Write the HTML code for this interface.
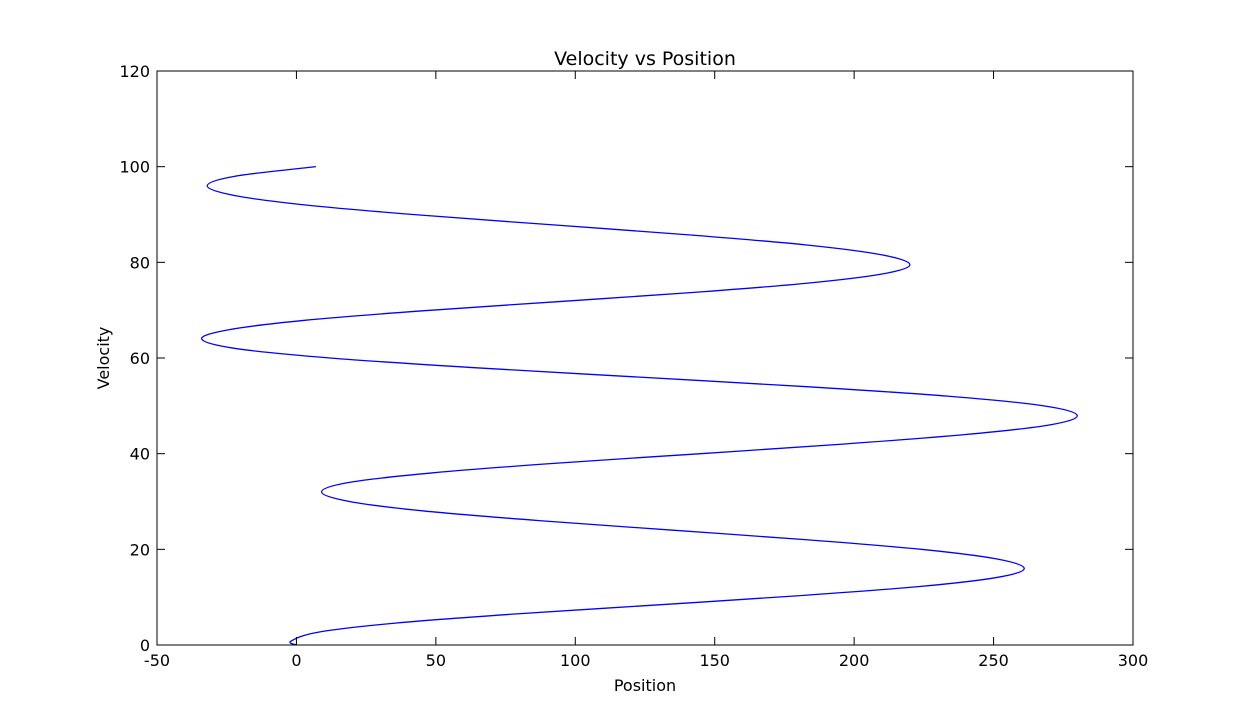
<!DOCTYPE html>
<html><head><meta charset="utf-8"><style>
body{margin:0;background:#fff;}
svg text{font-family:"DejaVu Sans","Liberation Sans",sans-serif;fill:#000;}
</style></head><body>
<svg id="chart" width="1258" height="718"></svg>
<script>
const positions=[0,-2,8,36,79,130,180,223,251,261,251,224,183,135,87,46,19,9,19,49,93,145,196,240,270,280,268,234,183,123,63,12,-22,-34,-24,3,44,93,142,183,210,220,210,183,142,94,46,5,-22,-32,-22,7];
const velocities=[0,0.8,2.7,4.6,6.5,8.4,10.3,12.2,14.1,16,18,20,22,24,26,28,30,32,34,36,38,40,42,44,46,48,50,52,54,56,58,60,62,64,65.94,67.88,69.81,71.75,73.69,75.63,77.56,79.5,81.56,83.63,85.69,87.75,89.81,91.88,93.94,96,98,100];
const xTicks=[-50,0,50,100,150,200,250,300];
const yTicks=[0,20,40,60,80,100,120];
const L=157,R=1133,T=71,B=645,xMin=-50,xMax=300,yMin=0,yMax=120;
const sx=v=>L+(v-xMin)/(xMax-xMin)*(R-L);
const sy=v=>B-(v-yMin)/(yMax-yMin)*(B-T);
const svg=document.getElementById('chart');
const NS='http://www.w3.org/2000/svg';
function mk(tag,attrs){const e=document.createElementNS(NS,tag);for(const k in attrs)e.setAttribute(k,attrs[k]);svg.appendChild(e);return e;}
// series
const pts=positions.map((p,i)=>[sx(p),sy(velocities[i])]);
let d='M'+pts[0][0]+','+pts[0][1];
for(let i=0;i<pts.length-1;i++){
 const p0=pts[Math.max(0,i-1)],p1=pts[i],p2=pts[i+1],p3=pts[Math.min(pts.length-1,i+2)];
 const c1=[p1[0]+(p2[0]-p0[0])/6,p1[1]+(p2[1]-p0[1])/6];
 const c2=[p2[0]-(p3[0]-p1[0])/6,p2[1]-(p3[1]-p1[1])/6];
 d+=' C'+c1[0]+','+c1[1]+' '+c2[0]+','+c2[1]+' '+p2[0]+','+p2[1];
}
const line=mk('path',{d:d,fill:'none',stroke:'#0000ff','stroke-width':1.3});


const frame=mk('rect',{x:L,y:T,width:R-L,height:B-T,fill:'none',stroke:'#000','stroke-width':1});


xTicks.forEach(v=>{
 const x=sx(v);
 mk('line',{x1:x,x2:x,y1:B,y2:B-8,stroke:'#000'});
 mk('line',{x1:x,x2:x,y1:T,y2:T+8,stroke:'#000'});
 const t=mk('text',{x:x,y:B+21,'text-anchor':'middle','font-size':16});
 t.textContent=v;
 
 
});
yTicks.forEach(v=>{
 const y=sy(v);
 mk('line',{x1:L,x2:L+8,y1:y,y2:y,stroke:'#000'});
 mk('line',{x1:R,x2:R-8,y1:y,y2:y,stroke:'#000'});
 const t=mk('text',{x:L-7,y:y+6,'text-anchor':'end','font-size':16});
 t.textContent=v;
 
 
});
const ti=mk('text',{x:645,y:65,'text-anchor':'middle','font-size':19});
ti.textContent='Velocity vs Position';


const xl=mk('text',{x:645,y:691,'text-anchor':'middle','font-size':16});
xl.textContent='Position';


const yl=mk('text',{x:0,y:0,'text-anchor':'middle','font-size':16,transform:'translate(109,358) rotate(-90)'});
yl.textContent='Velocity';


</script>
</body></html>
